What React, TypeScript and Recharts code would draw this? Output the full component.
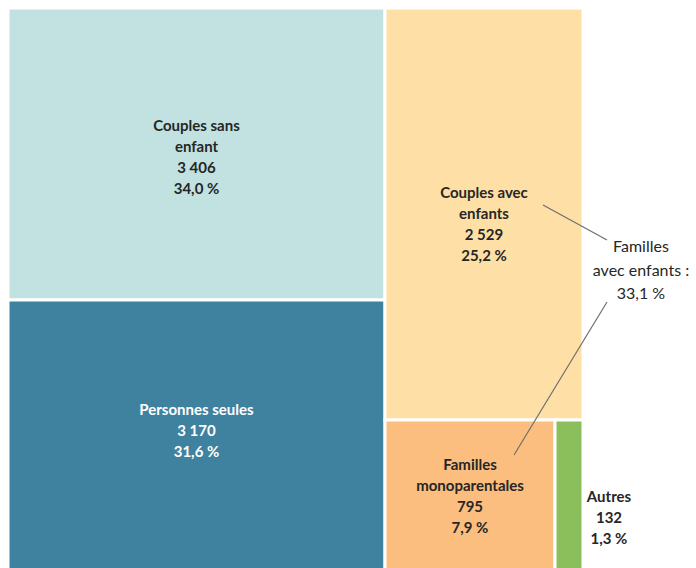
import React from "react";
import { Treemap } from "recharts";

const categories = [
  "Couples sans enfant",
  "Personnes seules",
  "Couples avec enfants",
  "Familles monoparentales",
  "Autres",
];
const labelLines = [
  ["Couples sans", "enfant"],
  ["Personnes seules"],
  ["Couples avec", "enfants"],
  ["Familles", "monoparentales"],
  ["Autres"],
];
const households = [3406, 3170, 2529, 795, 132];
const cellColors = ["#c1e2e1", "#3f82a0", "#fee0a6", "#fbbe7e", "#8abf5b"];
const textColors = ["#262626", "#ffffff", "#262626", "#262626", "#262626"];
// petit décalage vertical des étiquettes, comme sur l'original
const labelShift = [2, -6, 9, 0, 21];
// catégories regroupées dans l'annotation "Familles avec enfants"
const familyGroup = ["Couples avec enfants", "Familles monoparentales"];

const total = households.reduce((s, v) => s + v, 0);

function formatNumber(v: number) {
  return String(v).replace(/\B(?=(\d{3})+(?!\d))/g, " ");
}

function formatShare(v: number) {
  return `${((v / total) * 100).toFixed(1).replace(".", ",")} %`;
}

const data = categories.map((name, i) => ({
  name,
  value: households[i],
}));

const familyShare = formatShare(
  categories.reduce((s, c, i) => (familyGroup.includes(c) ? s + households[i] : s), 0)
);

const FONT = "Lato, 'Open Sans', sans-serif";

function CellContent(props: any) {
  const { x, y, width, height, depth, name } = props;
  if (depth !== 1) return null;
  const i = categories.indexOf(name);
  const lines = [...labelLines[i], formatNumber(households[i]), formatShare(households[i])];
  const outside = width < 60;
  const cx = outside ? x + width + 26 : x + width / 2;
  const lh = 21;
  const startY = y + height / 2 - ((lines.length - 1) * lh) / 2 + labelShift[i];
  return (
    <g>
      <rect x={x} y={y} width={width} height={height} fill={cellColors[i]} stroke="#ffffff" strokeWidth={3} />
      <text
        x={cx}
        y={startY}
        textAnchor="middle"
        dominantBaseline="central"
        fontFamily={FONT}
        fontWeight={700}
        fontSize={15}
        fill={outside ? "#262626" : textColors[i]}
      >
        {lines.map((l, k) => (
          <tspan key={k} x={cx} y={startY + k * lh}>
            {l}
          </tspan>
        ))}
      </text>
    </g>
  );
}

export default function App() {
  React.useEffect(() => {
    document.body.style.margin = "0";
    document.body.style.overflow = "hidden";
  }, []);

  return (
    <div style={{ position: "relative", width: 696, height: 568, overflow: "hidden", background: "#fff" }}>
      <style>{".recharts-surface{overflow:visible}"}</style>
      <div style={{ position: "absolute", left: 8, top: 8 }}>
        <Treemap
          width={575}
          height={563}
          data={data}
          dataKey="value"
          nameKey="name"
          isAnimationActive={false}
          content={<CellContent />}
        />
      </div>
      <svg
        width={696}
        height={568}
        style={{ position: "absolute", left: 0, top: 0, pointerEvents: "none" }}
      >
        <line x1={543} y1={205} x2={607} y2={240} stroke="#6e6e6e" strokeWidth={1.2} />
        <line x1={514} y1={455} x2={607} y2={302} stroke="#6e6e6e" strokeWidth={1.2} />
        <text textAnchor="middle" fontFamily={FONT} fontSize={16} fill="#262626">
          <tspan x={641} y={252}>Familles</tspan>
          <tspan x={641} y={276}>avec enfants :</tspan>
          <tspan x={641} y={299}>{familyShare}</tspan>
        </text>
      </svg>
    </div>
  );
}
